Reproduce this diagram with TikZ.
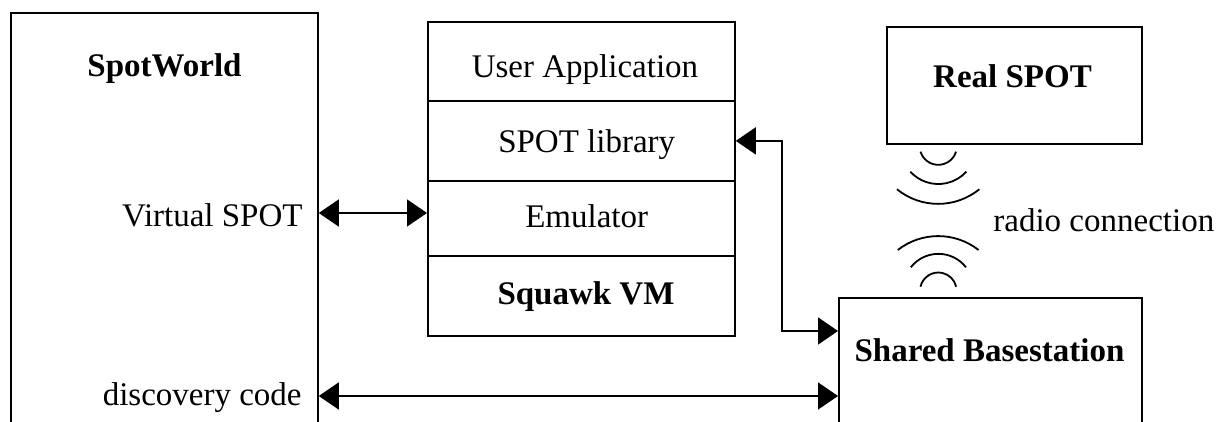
\documentclass[tikz,border=0pt]{standalone}
\usepackage{fontspec}
\setmainfont{Liberation Serif}
\usetikzlibrary{arrows.meta}
\begin{document}
\begin{tikzpicture}[x=0.5pt,y=0.5pt,
  box/.style={draw,line width=0.9pt,inner sep=0pt,anchor=north west},
  txt/.style={inner sep=0pt,font=\fontsize{16.5}{19}\selectfont},
  btxt/.style={txt,font=\fontsize{16.5}{19}\selectfont\bfseries},
  conn/.style={line width=0.8pt,{Triangle[length=10pt,width=13.5pt]}-{Triangle[length=10pt,width=13.5pt]}},
  wave/.style={line width=0.9pt}]
\useasboundingbox (0,0) rectangle (1227,422);
\clip (0,0) rectangle (1227,422);
% boxes
\node[box,minimum width=153.5pt,minimum height=220pt] (sw) at (10,410) {};
\node[box,minimum width=153.5pt,minimum height=39.5pt] (ua) at (427,401) {};
\node[box,minimum width=153.5pt,minimum height=40pt] (lib) at (427,322) {};
\node[box,minimum width=153.5pt,minimum height=37.5pt] (emu) at (427,242) {};
\node[box,minimum width=153.5pt,minimum height=40pt] (sq) at (427,167) {};
\node[box,minimum width=127.5pt,minimum height=58.5pt] (rs) at (886,396) {};
\node[box,minimum width=151.5pt,minimum height=77.5pt] (bs) at (838,125) {};
% texts
\node[btxt,anchor=base] (tsw) at (164.5,345) {SpotWorld};
\node[txt,anchor=base east] (tvs) at (303,195) {Virtual SPOT};
\node[txt,anchor=base east] (tdc) at (302,16) {discovery code};
\node[txt,anchor=base] (tua) at (585,344) {User Application};
\node[txt,anchor=base] (tlib) at (586.7,269.3) {SPOT library};
\node[txt,anchor=base] (temu) at (586.7,194) {Emulator};
\node[btxt,anchor=base] (tsq) at (586,117) {Squawk VM};
\node[btxt,anchor=base] (trs) at (1012.5,334) {Real SPOT};
\node[btxt,anchor=base] (tbs) at (989.5,60) {Shared Basestation};
\node[txt,anchor=base west] (trc) at (993,190) {radio connection};
% connectors
\draw[conn] (sw.east |- 0,209) -- (emu.west |- 0,209);
\draw[conn] (lib.east) -| (782,91) -- (bs.west |- 0,91);
\draw[conn] (sw.east |- 0,26) -- (bs.west |- 0,26);
% radio waves
\draw[wave] (920.5,270.3) arc[start angle=197,end angle=343,radius=18.6];
\draw[wave] (910.3,250.3) arc[start angle=222.5,end angle=317.5,radius=38];
\draw[wave] (897,232.7) arc[start angle=231,end angle=309,radius=65.4];
\draw[wave] (897.8,172) arc[start angle=128,end angle=52,radius=65.6];
\draw[wave] (910.8,154.7) arc[start angle=142,end angle=38,radius=35];
\draw[wave] (920.5,135.3) arc[start angle=167,end angle=13,radius=18.3];
\end{tikzpicture}
\end{document}
